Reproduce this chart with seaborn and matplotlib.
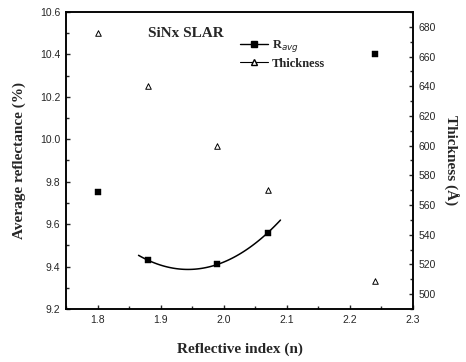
import numpy as np
import pandas as pd
import seaborn as sns
import matplotlib.pyplot as plt
from matplotlib.ticker import MultipleLocator
from matplotlib.lines import Line2D

# data
indice = [1.80, 1.88, 1.99, 2.07, 2.24]
r_avg = [9.75, 9.43, 9.41, 9.56, 10.40]
espessura = [676, 640, 600, 570, 509]

# quadratic fit drawn in the figure (through the three middle points)
idx_fit = [1, 2, 3]
fit_inicio, fit_fim = 1.865, 2.09

sns.set_style('ticks')
plt.rcParams['font.family'] = ['Liberation Sans', 'DejaVu Sans']
plt.rcParams['xtick.direction'] = 'in'
plt.rcParams['ytick.direction'] = 'in'

dados = pd.DataFrame({'n': indice, 'R': r_avg, 'T': espessura})

fig = plt.figure(figsize=(4.66, 3.62), dpi=100)
ax = fig.add_axes([0.1416, 0.1464, 0.7446, 0.8205])

# --- R_avg ---
sns.scatterplot(data=dados, x='n', y='R', marker='s', s=14, color='black',
                edgecolor='black', ax=ax, legend=False, zorder=3)
coef = np.polyfit(dados['n'].iloc[idx_fit], dados['R'].iloc[idx_fit], 2)
xs = np.linspace(fit_inicio, fit_fim, 80)
sns.lineplot(x=xs, y=np.polyval(coef, xs), color='black', lw=1.1, ax=ax)

ax.set_xlim(1.75, 2.3)
ax.set_ylim(9.2, 10.6)
ax.xaxis.set_major_locator(MultipleLocator(0.1))
ax.xaxis.set_minor_locator(MultipleLocator(0.05))
ax.yaxis.set_major_locator(MultipleLocator(0.2))
ax.yaxis.set_minor_locator(MultipleLocator(0.1))
ax.tick_params(which='both', top=False, labelsize=7.5, width=1, pad=4)
ax.tick_params(which='major', length=3)
ax.tick_params(which='minor', length=2)

serif = ['Liberation Serif', 'DejaVu Serif']
ax.set_xlabel('Reflective index (n)', fontsize=11, fontweight='bold', family=serif, labelpad=13)
ax.set_ylabel('Average reflectance (%)', fontsize=11, fontweight='bold', family=serif, labelpad=10)

# --- Thickness ---
ax2 = ax.twinx()
sns.scatterplot(data=dados, x='n', y='T', marker='^', s=16, facecolor='white',
                edgecolor='black', linewidth=0.7, ax=ax2, legend=False)
ax2.set_ylim(490, 690)
ax2.yaxis.set_major_locator(MultipleLocator(20))
ax2.yaxis.set_minor_locator(MultipleLocator(10))
ax2.tick_params(which='both', labelsize=7.5, width=1, pad=4)
ax2.tick_params(which='major', length=3)
ax2.tick_params(which='minor', length=2)
ax2.set_ylabel('Thickness (Å)', fontsize=11, fontweight='bold', family=serif,
               rotation=270, labelpad=16)

for a in (ax, ax2):
    for s in a.spines.values():
        s.set_linewidth(1.1)
        s.set_color('black')

ax.text(1.88, 10.48, 'SiNx SLAR', fontsize=11, fontweight='bold', family=serif)

handles = [
    Line2D([], [], color='black', marker='s', markersize=4, lw=1),
    Line2D([], [], color='black', marker='^', markersize=5, markerfacecolor='white', lw=0.8),
]
ax.legend(handles, ['R$_{avg}$', 'Thickness'], loc='upper left',
          bbox_to_anchor=(0.47, 0.95), frameon=False, handlelength=2.2,
          prop={'family': serif, 'size': 9, 'weight': 'bold'},
          labelspacing=0.3, handletextpad=0.3)

plt.savefig('out.png', dpi=100)
